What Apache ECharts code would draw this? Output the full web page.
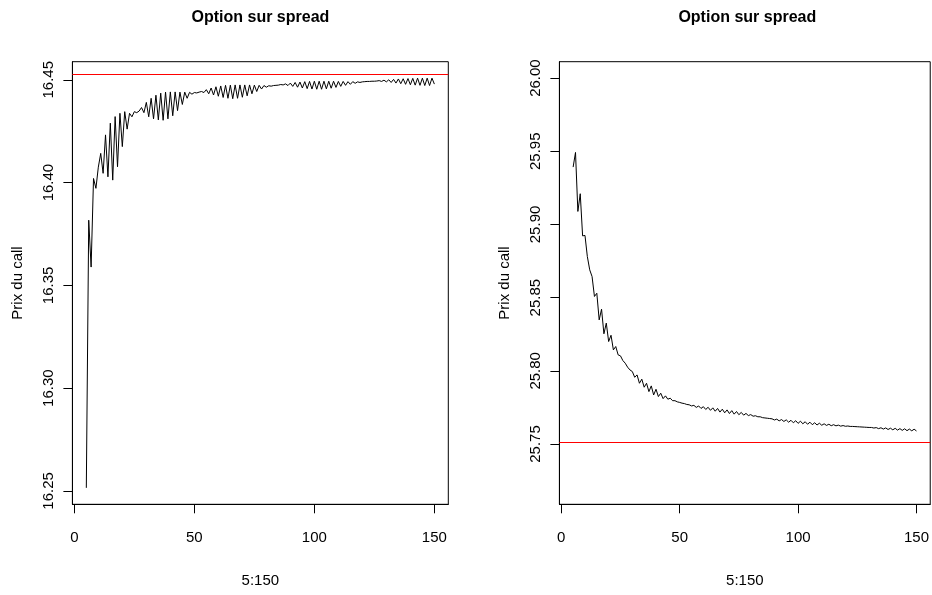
<!DOCTYPE html>
<html>
<head>
<meta charset="utf-8">
<script src="https://cdn.jsdelivr.net/npm/echarts@6/dist/echarts.min.js"></script>
<style>
  html, body { margin: 0; padding: 0; background: #ffffff; }
  #chart { width: 932px; height: 595px; }
</style>
</head>
<body>
<div id="chart"></div>
<script>
// Number of time steps of the tree, 5:150
const steps = Array.from({ length: 146 }, (_, i) => i + 5);

// Call price on the spread, left case (converges from below)
const leftPrices = [
  16.2515, 16.3817, 16.3589, 16.4020, 16.3972, 16.4075, 16.4142, 16.4045, 16.4232, 16.4028,
  16.4289, 16.4012, 16.4321, 16.4077, 16.4337, 16.4175, 16.4345, 16.4260, 16.4337, 16.4320,
  16.4345, 16.4340, 16.4348, 16.4365, 16.4340, 16.4390, 16.4320, 16.4410, 16.4310, 16.4425,
  16.4305, 16.4435, 16.4303, 16.4440, 16.4310, 16.4441, 16.4325, 16.4441, 16.4350, 16.4440,
  16.4380, 16.4440, 16.4410, 16.4439, 16.4430, 16.4438, 16.4436, 16.4440, 16.4443, 16.4438,
  16.4452, 16.4432, 16.4460, 16.4426, 16.4466, 16.4420, 16.4470, 16.4414, 16.4473, 16.4410,
  16.4474, 16.4408, 16.4475, 16.4410, 16.4475, 16.4415, 16.4475, 16.4422, 16.4475, 16.4432,
  16.4474, 16.4443, 16.4473, 16.4455, 16.4472, 16.4464, 16.4471, 16.4469, 16.4472, 16.4473,
  16.4474, 16.4477, 16.4475, 16.4480, 16.4472, 16.4484, 16.4468, 16.4487, 16.4464, 16.4489,
  16.4460, 16.4491, 16.4457, 16.4492, 16.4455, 16.4493, 16.4454, 16.4493, 16.4454, 16.4493,
  16.4456, 16.4493, 16.4459, 16.4493, 16.4463, 16.4492, 16.4468, 16.4492, 16.4473, 16.4491,
  16.4478, 16.4491, 16.4483, 16.4490, 16.4487, 16.4490, 16.4491, 16.4492, 16.4492, 16.4493,
  16.4493, 16.4494, 16.4496, 16.4492, 16.4498, 16.4490, 16.4500, 16.4487, 16.4502, 16.4484,
  16.4504, 16.4481, 16.4505, 16.4478, 16.4506, 16.4476, 16.4507, 16.4474, 16.4508, 16.4473,
  16.4508, 16.4472, 16.4508, 16.4472, 16.4508, 16.4479
];

// Call price on the spread, right case (converges from above)
const rightPrices = [
  25.9392, 25.9492, 25.9089, 25.9210, 25.8922, 25.8925, 25.8781, 25.8690, 25.8644, 25.8508,
  25.8530, 25.8348, 25.8421, 25.8253, 25.8326, 25.8200, 25.8243, 25.8143, 25.8166, 25.8109,
  25.8102, 25.8070, 25.8052, 25.8025, 25.8006, 25.7995, 25.7956, 25.7972, 25.7915, 25.7943,
  25.7888, 25.7915, 25.7858, 25.7897, 25.7835, 25.7874, 25.7824, 25.7847, 25.7810, 25.7829,
  25.7806, 25.7813, 25.7796, 25.7796, 25.7788, 25.7784, 25.7779, 25.7776, 25.7770, 25.7768,
  25.7760, 25.7764, 25.7750, 25.7760, 25.7743, 25.7755, 25.7736, 25.7751, 25.7730, 25.7747,
  25.7724, 25.7743, 25.7718, 25.7738, 25.7713, 25.7733, 25.7708, 25.7728, 25.7704, 25.7722,
  25.7700, 25.7716, 25.7697, 25.7709, 25.7694, 25.7701, 25.7690, 25.7693, 25.7686, 25.7686,
  25.7680, 25.7678, 25.7676, 25.7674, 25.7672, 25.7664, 25.7670, 25.7658, 25.7667, 25.7654,
  25.7665, 25.7649, 25.7662, 25.7645, 25.7659, 25.7641, 25.7656, 25.7638, 25.7652, 25.7635,
  25.7649, 25.7632, 25.7645, 25.7630, 25.7642, 25.7628, 25.7638, 25.7627, 25.7635, 25.7625,
  25.7632, 25.7624, 25.7629, 25.7622, 25.7626, 25.7621, 25.7623, 25.7620, 25.7620, 25.7619,
  25.7618, 25.7617, 25.7616, 25.7615, 25.7614, 25.7613, 25.7613, 25.7609, 25.7612, 25.7605,
  25.7611, 25.7602, 25.7610, 25.7599, 25.7608, 25.7597, 25.7607, 25.7595, 25.7605, 25.7593,
  25.7604, 25.7591, 25.7602, 25.7590, 25.7601, 25.7589
];

// Closed-form reference prices (red horizontal lines)
const leftReference = 16.4529;
const rightReference = 25.7512;

// Tick labels
const xTicks = [0, 50, 100, 150];
const leftYTicks = [16.25, 16.30, 16.35, 16.40, 16.45];
const rightYTicks = [25.75, 25.80, 25.85, 25.90, 25.95, 26.00];

const panelTitle = 'Option sur spread';
const xName = '5:150';
const yName = 'Prix du call';

const FONT = "'Liberation Sans', Arial, Helvetica, sans-serif";

const chart = echarts.init(document.getElementById('chart'), null, { renderer: 'canvas' });

function xAxisFor(gridIndex) {
  return {
    type: 'value', gridIndex, min: -0.8, max: 155.8,
    name: xName, nameLocation: 'middle', nameGap: 69,
    nameTextStyle: { color: '#000', fontSize: 15, fontFamily: FONT },
    axisLine: { show: true, onZero: false, lineStyle: { color: '#000', width: 1 } },
    axisTick: { show: true, length: 9, inside: false, customValues: xTicks, lineStyle: { color: '#000' } },
    axisLabel: { show: true, customValues: xTicks, margin: 26, color: '#000', fontSize: 15, fontFamily: FONT },
    splitLine: { show: false }
  };
}

function yAxisFor(gridIndex, min, max, ticks) {
  return {
    type: 'value', gridIndex, min, max,
    name: yName, nameLocation: 'middle', nameGap: 47, nameRotate: 90,
    nameTextStyle: { color: '#000', fontSize: 15, fontFamily: FONT },
    axisLine: { show: true, onZero: false, lineStyle: { color: '#000', width: 1 } },
    axisTick: { show: true, length: 9, inside: false, customValues: ticks, lineStyle: { color: '#000' } },
    axisLabel: {
      show: true, customValues: ticks, rotate: 90, margin: 16,
      color: '#000', fontSize: 15, fontFamily: FONT,
      formatter: v => v.toFixed(2)
    },
    splitLine: { show: false }
  };
}

function priceSeries(index, prices, reference) {
  return {
    type: 'line', xAxisIndex: index, yAxisIndex: index,
    data: steps.map((s, i) => [s, prices[i]]),
    showSymbol: false, symbol: 'none',
    lineStyle: { color: '#000', width: 1 },
    animation: false,
    markLine: {
      silent: true, symbol: 'none', animation: false, precision: 6,
      label: { show: false },
      lineStyle: { color: '#ff0000', width: 1, type: 'solid' },
      data: [{ yAxis: reference }]
    }
  };
}

chart.setOption({
  backgroundColor: '#ffffff',
  animation: false,
  grid: [
    { left: 72.4, top: 61.7, width: 375.9, height: 442.6, show: true, borderColor: '#000', borderWidth: 1, backgroundColor: 'transparent' },
    { left: 559.4, top: 61.7, width: 375.8, height: 442.6, show: true, borderColor: '#000', borderWidth: 1, backgroundColor: 'transparent' }
  ],
  xAxis: [xAxisFor(0), xAxisFor(1)],
  yAxis: [
    yAxisFor(0, 16.2435, 16.4588, leftYTicks),
    yAxisFor(1, 25.7088, 26.0112, rightYTicks)
  ],
  series: [
    priceSeries(0, leftPrices, leftReference),
    priceSeries(1, rightPrices, rightReference)
  ],
  graphic: [
    { type: 'text', x: 260.4, y: 18, style: { text: panelTitle, align: 'center', verticalAlign: 'middle', font: 'bold 16px ' + FONT, fill: '#000' } },
    { type: 'text', x: 747.3, y: 18, style: { text: panelTitle, align: 'center', verticalAlign: 'middle', font: 'bold 16px ' + FONT, fill: '#000' } }
  ]
});
</script>
</body>
</html>
